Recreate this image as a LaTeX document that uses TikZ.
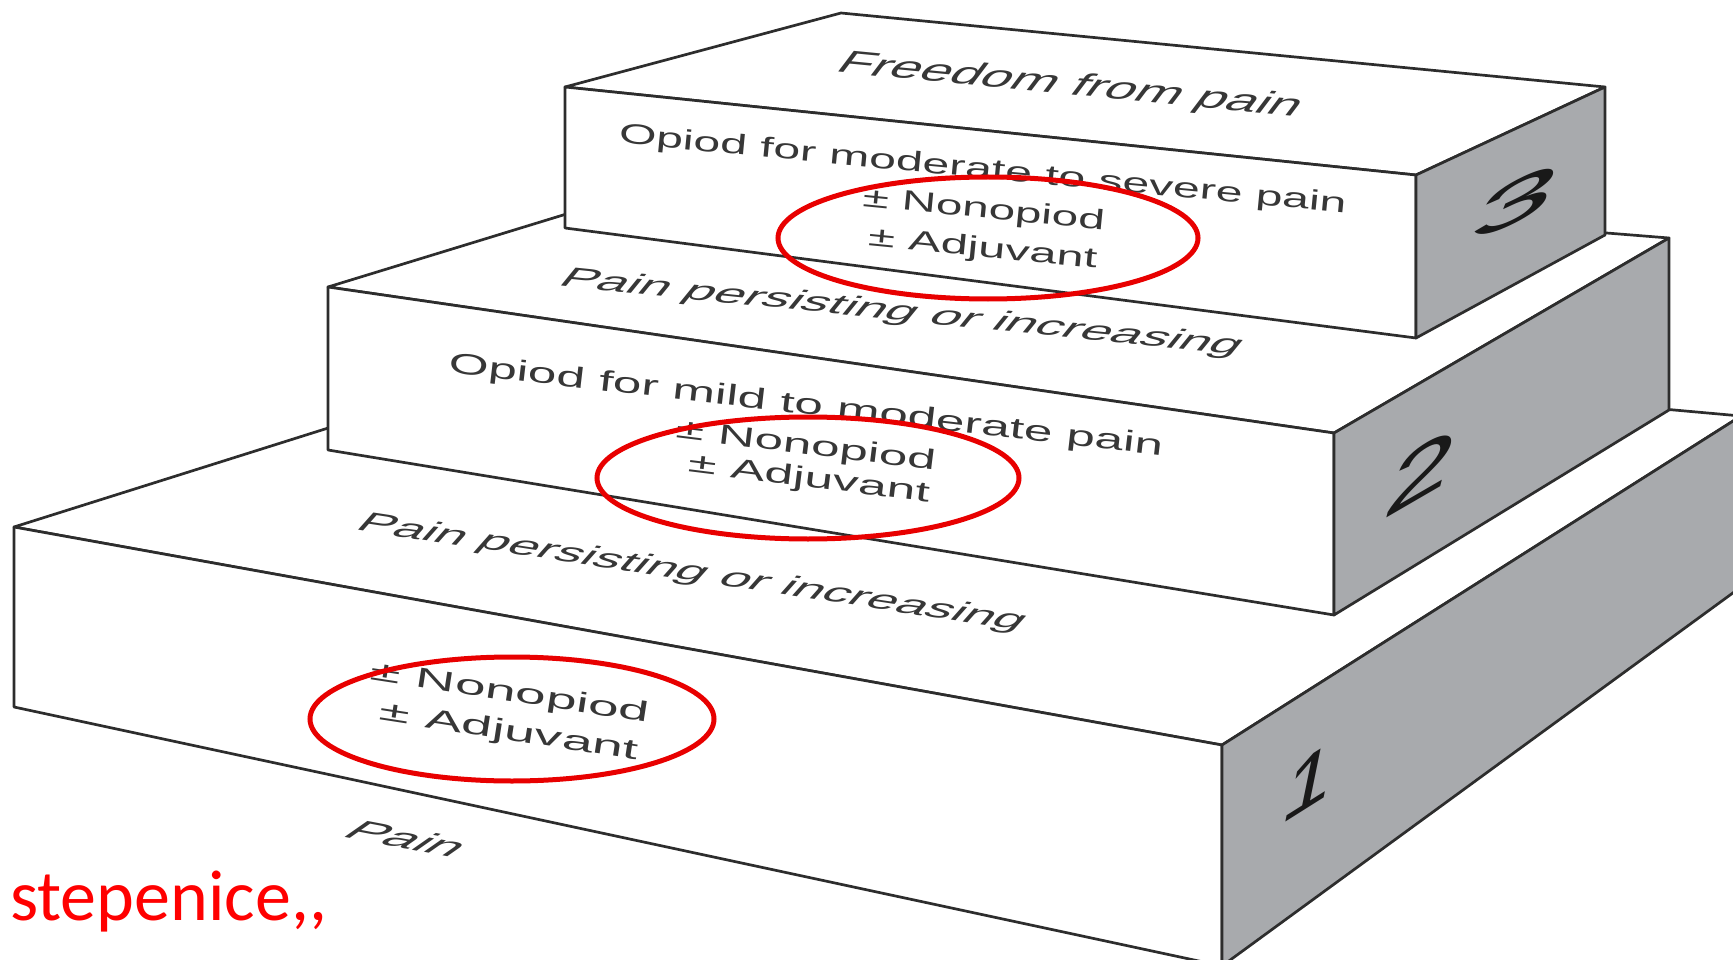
\documentclass[tikz,border=0pt]{standalone}
\usepackage{fontspec}
\setmainfont{Liberation Sans}
\newfontfamily\calibfont{Carlito}
\definecolor{edge}{RGB}{45,45,45}
\definecolor{txtgray}{RGB}{55,55,55}
\definecolor{sidegray}{RGB}{168,170,173}
\definecolor{ringred}{RGB}{232,0,0}
\definecolor{stepred}{RGB}{255,0,0}
\tikzset{
  face/.style={draw=edge, line width=2.7pt, line join=round, fill=white},
  side/.style={face, fill=sidegray},
  lbl/.style={text=txtgray, inner sep=0pt, anchor=base, font=\fontsize{#1}{#1}\selectfont},
  ilbl/.style={lbl=#1},
  digit/.style={text=black!90, inner sep=0pt, anchor=center, font=\fontsize{#1}{#1}\selectfont\itshape},
  ring/.style={draw=ringred, line width=5pt},
}
\begin{document}
\begin{tikzpicture}[x=1pt,y=-1pt]
\useasboundingbox (0,0) rectangle (1733,960);
\clip (0,0) rectangle (1733,960);

% step 1
\draw[face] (14,527) -- (671,320) -- (1741,416) -- (1222,745) -- cycle;
\draw[face] (14,527) -- (1222,745) -- (1222,966) -- (14,707) -- cycle;
\draw[side] (1222,745) -- (1741,416) -- (1741,587) -- (1222,966) -- cycle;

% step 2
\draw[face] (328,287) -- (733,163) -- (1669,238) -- (1334,433) -- cycle;
\draw[face] (328,287) -- (1334,433) -- (1334,615) -- (328,450) -- cycle;
\draw[side] (1334,433) -- (1669,238) -- (1669,410) -- (1334,615) -- cycle;

% step 3
\draw[face] (565,87) -- (841,13) -- (1605,87) -- (1416,175) -- cycle;
\draw[face] (565,87) -- (1416,175) -- (1416,338) -- (565,228) -- cycle;
\draw[side] (1416,175) -- (1605,87) -- (1605,235) -- (1416,338) -- cycle;

% texts step 3
\node[ilbl=32, rotate=-5.5, xscale=1.71, xslant=0.36] (tfree) at (1064,94) {Freedom from pain};
\node[lbl=28, rotate=-5.5, xscale=1.72] (top3) at (982,178) {Opiod for moderate to severe pain};
\node[lbl=28, rotate=-5.6, xscale=1.70] (tn3) at (983,218) {± Nonopiod};
\node[lbl=28, rotate=-5.6, xscale=1.74] (ta3) at (982,257) {± Adjuvant};

% texts step 2
\node[ilbl=28, rotate=-5.8, xscale=1.94, xslant=0.34] (tpp2) at (896,320) {Pain persisting or increasing};
\node[lbl=29, rotate=-6.6, xscale=1.77] (top2) at (805,414) {Opiod for mild to moderate pain};
\node[lbl=28, rotate=-7.1, xscale=1.83] (tn2) at (805,454) {± Nonopiod};
\node[lbl=28, rotate=-7.1, xscale=1.84] (ta2) at (808,487) {± Adjuvant};

% texts step 1
\node[ilbl=28, rotate=-8.6, xscale=1.91, xslant=0.34] (tpp1) at (686,580) {Pain persisting or increasing};
\node[lbl=28, rotate=-8.8, xscale=1.97] (tn1) at (509,701) {± Nonopiod};
\node[lbl=28, rotate=-8.8, xscale=1.98] (ta1) at (508,740) {± Adjuvant};
\node[ilbl=29, rotate=-10.8, xscale=1.95, xslant=0.5] (tpain) at (396,847) {Pain};

% digits
\node[digit=60, yslant=0.47, xscale=2.5] (d3) at (1513,203) {3};
\node[digit=74, yslant=0.58, xscale=1.6] (d2) at (1420,473) {2};
\node[digit=74, yslant=0.63, xscale=1.2] (d1) at (1308,782) {1};

% red rings
\draw[ring] (988,238) ellipse [x radius=210pt, y radius=61pt];
\draw[ring] (808,478) ellipse [x radius=211pt, y radius=61pt];
\draw[ring] (512,719) ellipse [x radius=202pt, y radius=62pt];

\node[text=stepred, inner sep=0pt, anchor=base west, font=\calibfont\fontsize{72}{72}\selectfont] (tstep) at (10,920) {stepenice,,};
\end{tikzpicture}
\end{document}
